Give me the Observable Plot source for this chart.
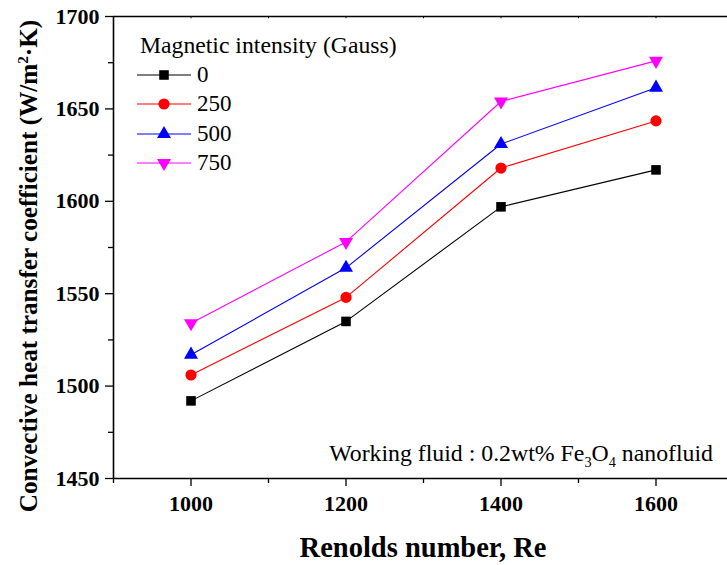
<!DOCTYPE html>
<html>
<head>
<meta charset="utf-8">
<script src="https://cdn.jsdelivr.net/npm/d3@7"></script>
<script src="https://cdn.jsdelivr.net/npm/@observablehq/plot@0.6"></script>
<style>
  html, body { margin: 0; padding: 0; background: #fff; overflow: hidden; }
  #wrap { position: relative; width: 727px; height: 565px; overflow: hidden; font-family: "Liberation Serif", "Times New Roman", serif; }
  #chart { position: absolute; left: 0; top: 0; width: 740px; }
  #chart svg { max-width: none !important; }
  .ytitle { position: absolute; left: 29px; top: 266px; transform: translate(-50%, -50%) rotate(-90deg); white-space: nowrap; font-weight: bold; font-size: 25.2px; }
  .xtitle { position: absolute; left: 423px; top: 548px; transform: translate(-50%, -50%); white-space: nowrap; font-weight: bold; font-size: 28.5px; }
  .note { position: absolute; right: 14px; top: 440px; white-space: nowrap; font-size: 23.8px; }
  .legend { position: absolute; left: 137px; top: 30px; }
  .legend .t { height: 30px; line-height: 30px; margin-left: 3px; font-size: 23.7px; }
  .legend .row { display: flex; align-items: center; height: 29.5px; }
  .legend .row span { margin-left: 6px; font-size: 23px; }
  sup, sub { font-size: 0.6em; }
</style>
</head>
<body>
<div id="wrap">
  <div id="chart"></div>
  <div class="ytitle">Convective heat transfer coefficient (W/m<sup>2</sup>·K)</div>
  <div class="xtitle">Renolds number, Re</div>
  <div class="note">Working fluid : 0.2wt% Fe<sub>3</sub>O<sub>4</sub> nanofluid</div>
  <div class="legend" id="legend"></div>
</div>
<script>
const reynolds = [1000, 1200, 1400, 1600];
const series = ["0", "250", "500", "750"];
const h0   = [1492, 1535, 1597, 1617];
const h250 = [1506, 1548, 1618, 1643.5];
const h500 = [1517, 1564, 1631, 1661.5];
const h750 = [1534, 1578, 1654, 1676];
const colors = ["#000000", "#ff0000", "#0000ff", "#ff00ff"];
const symbols = ["square", "circle", "triangle", "triangle"];
const xMajor = [1000, 1200, 1400, 1600];
const xMinor = [900, 1100, 1300, 1500, 1700];
const yMajor = [1450, 1500, 1550, 1600, 1650, 1700];
const yMinor = [1475, 1525, 1575, 1625, 1675];

const values = [h0, h250, h500, h750];
const data = [];
series.forEach((s, i) => reynolds.forEach((re, j) => data.push({series: s, re, h: values[i][j], idx: i})));

const lines = series.map((s, i) => Plot.line(data.filter(d => d.series === s), {x: "re", y: "h", stroke: colors[i], strokeWidth: 1.1}));
const dots = series.map((s, i) => Plot.dot(data.filter(d => d.series === s), {
  x: "re", y: "h", fill: colors[i], stroke: "none",
  symbol: symbols[i], r: i === 0 ? 5.4 : (i === 1 ? 5.6 : 5.2),
  rotate: i === 3 ? 180 : 0
}));

const chart = Plot.plot({
  width: 740, height: 565,
  marginLeft: 113, marginRight: 7, marginTop: 16, marginBottom: 87,
  x: {domain: [900, 1700]},
  y: {domain: [1450, 1700]},
  style: {fontFamily: "'Liberation Serif', 'Times New Roman', serif", fontSize: "22px", fontWeight: "bold", color: "#000", background: "transparent", maxWidth: "none"},
  marks: [
    Plot.axisX({ticks: xMajor, tickSize: 8, tickPadding: 9, tickFormat: d => String(d), label: null, strokeWidth: 1.3, fontSize: 22, fontWeight: "bold"}),
    Plot.axisX({ticks: xMinor, tickSize: 5, tickFormat: null, text: null, label: null, strokeWidth: 1.3}),
    Plot.axisY({ticks: yMajor, tickSize: 8, tickPadding: 6, tickFormat: d => String(d), label: null, strokeWidth: 1.3, fontSize: 22, fontWeight: "bold"}),
    Plot.axisY({ticks: yMinor, tickSize: 5, text: null, label: null, strokeWidth: 1.3}),
    Plot.ruleX(xMajor.concat(xMinor), {y1: 1700, y2: 1698.8, strokeWidth: 1}),
    Plot.ruleY([1450, 1700], {strokeWidth: 1.6}),
    Plot.ruleX([900, 1700], {strokeWidth: 1.6}),
    ...lines,
    ...dots
  ]
});
document.getElementById("chart").appendChild(chart);

// legend
const leg = document.getElementById("legend");
const t = document.createElement("div");
t.className = "t";
t.textContent = "Magnetic intensity (Gauss)";
leg.appendChild(t);
const symPaths = [
  d3.symbol(d3.symbolSquare, Math.PI * 5.4 * 5.4)(),
  d3.symbol(d3.symbolCircle, Math.PI * 5.6 * 5.6)(),
  d3.symbol(d3.symbolTriangle, Math.PI * 5.2 * 5.2)(),
  d3.symbol(d3.symbolTriangle, Math.PI * 5.2 * 5.2)()
];
series.forEach((s, i) => {
  const row = document.createElement("div");
  row.className = "row";
  row.innerHTML = `<svg width="54" height="16" style="overflow:visible"><line x1="0" x2="54" y1="8" y2="8" stroke="${colors[i]}" stroke-width="1.1"/><path d="${symPaths[i]}" transform="translate(27,8)${i === 3 ? " rotate(180)" : ""}" fill="${colors[i]}"/></svg><span>${s}</span>`;
  leg.appendChild(row);
});
</script>
</body>
</html>
